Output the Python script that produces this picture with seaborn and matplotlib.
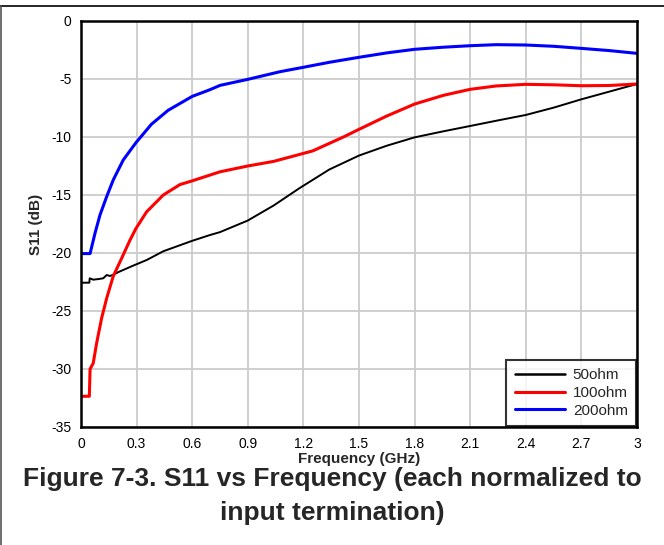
import numpy as np
import pandas as pd
import matplotlib
matplotlib.use("Agg")
import matplotlib.pyplot as plt
import seaborn as sns
from matplotlib.lines import Line2D

# ---- data ----
freq_50 = [0.0, 0.045, 0.047, 0.066, 0.093, 0.12, 0.1385, 0.156, 0.174, 0.201, 0.28, 0.355,
           0.444, 0.6, 0.696, 0.75, 0.9, 1.04, 1.18, 1.34, 1.5, 1.65, 1.8, 1.955, 2.1, 2.24,
           2.4, 2.55, 2.7, 2.85, 3.0]
s11_50 = [-22.56, -22.56, -22.18, -22.3, -22.25, -22.18, -21.9, -21.98, -21.88, -21.65, -21.1, -20.6,
          -19.85, -18.95, -18.45, -18.2, -17.2, -15.9, -14.4, -12.8, -11.6, -10.75, -10.03, -9.51, -9.05, -8.6,
          -8.1, -7.47, -6.75, -6.09, -5.43]

freq_100 = [0.0, 0.045, 0.049, 0.066, 0.084, 0.1115, 0.1385, 0.174, 0.2195, 0.264, 0.296, 0.354,
            0.444, 0.534, 0.6, 0.696, 0.75, 0.9, 1.04, 1.18, 1.25, 1.34, 1.42, 1.5, 1.65, 1.8,
            1.955, 2.1, 2.24, 2.4, 2.55, 2.7, 2.85, 3.0]
s11_100 = [-32.35, -32.35, -30.0, -29.5, -27.8, -25.6, -23.9, -22.0, -20.45, -18.9, -17.9, -16.45,
           -15.0, -14.1, -13.78, -13.28, -13.0, -12.5, -12.1, -11.5, -11.2, -10.55, -9.97, -9.34, -8.19, -7.16,
           -6.41, -5.89, -5.6, -5.46, -5.5, -5.58, -5.56, -5.43]

freq_200 = [0.0, 0.049, 0.0755, 0.1025, 0.1385, 0.174, 0.228, 0.296, 0.38, 0.47, 0.6, 0.696,
            0.75, 0.9, 1.074, 1.2, 1.34, 1.5, 1.65, 1.8, 1.955, 2.1, 2.24, 2.4, 2.55, 2.7, 2.85, 3.0]
s11_200 = [-20.05, -20.05, -18.3, -16.72, -15.14, -13.7, -11.98, -10.5, -8.9, -7.7, -6.5, -5.92,
           -5.55, -5.03, -4.37, -3.99, -3.56, -3.13, -2.75, -2.44, -2.26, -2.13, -2.04, -2.07, -2.18, -2.36, -2.55, -2.79]

series_names = ["50ohm", "100ohm", "200ohm"]
series_colors = ["#000000", "#ff0000", "#0000ff"]
x_ticks = [0, 0.3, 0.6, 0.9, 1.2, 1.5, 1.8, 2.1, 2.4, 2.7, 3]
x_tick_labels = ["0", "0.3", "0.6", "0.9", "1.2", "1.5", "1.8", "2.1", "2.4", "2.7", "3"]
y_ticks = [0, -5, -10, -15, -20, -25, -30, -35]
y_tick_labels = ["0", "-5", "-10", "-15", "-20", "-25", "-30", "-35"]

df = pd.concat([
    pd.DataFrame({"Frequency": freq_50, "S11": s11_50, "Termination": series_names[0]}),
    pd.DataFrame({"Frequency": freq_100, "S11": s11_100, "Termination": series_names[1]}),
    pd.DataFrame({"Frequency": freq_200, "S11": s11_200, "Termination": series_names[2]}),
], ignore_index=True)

sns.set_theme(style="white")
plt.rcParams["font.family"] = ["Liberation Sans", "DejaVu Sans"]

fig = plt.figure(figsize=(6.64, 5.45), dpi=100)
W, H = 664, 545
ax = fig.add_axes([81 / W, 1 - 427 / H, 556 / W, 406 / H])

sns.lineplot(data=df, x="Frequency", y="S11", hue="Termination",
             hue_order=series_names, palette=dict(zip(series_names, series_colors)),
             ax=ax, estimator=None, sort=False, legend=False)
for line, lw in zip(ax.get_lines(), [1.4, 2.2, 2.2]):
    line.set_linewidth(lw)
    line.set_solid_joinstyle("round")
    line.set_solid_capstyle("butt")

ax.set_xlim(0, 3)
ax.set_ylim(-35, 0)
ax.set_xticks(x_ticks)
ax.set_xticklabels(x_tick_labels)
ax.set_yticks(y_ticks)
ax.set_yticklabels(y_tick_labels)
ax.tick_params(axis="both", length=0, labelsize=10, colors="black")
ax.tick_params(axis="x", pad=7)
ax.tick_params(axis="y", pad=7)
ax.grid(True, color="#cccccc", linewidth=1.3)
ax.set_axisbelow(True)
for sp in ax.spines.values():
    sp.set_visible(True)
    sp.set_color("black")
    sp.set_linewidth(1.8)
    sp.set_zorder(5)

ax.set_xlabel("Frequency (GHz)", fontsize=11, fontweight="bold", labelpad=1)
ax.set_ylabel("S11 (dB)", fontsize=11, fontweight="bold", labelpad=6)

handles = [Line2D([0], [0], color=c, lw=2.2 if i else 1.8) for i, c in enumerate(series_colors)]
leg = ax.legend(handles, series_names, loc="lower right", borderaxespad=0.05,
                fontsize=11, frameon=True, fancybox=False, handlelength=3.3,
                handletextpad=0.5, labelspacing=0.25, borderpad=0.55)
leg.get_frame().set_edgecolor("black")
leg.get_frame().set_linewidth(1.5)
leg.set_zorder(6)

fig.text(332 / W, 1 - 496 / H,
         "Figure 7-3. S11 vs Frequency (each normalized to\ninput termination)",
         ha="center", va="center", fontsize=19, fontweight="bold", linespacing=1.5)

# outer frame
fig.add_artist(Line2D([0, 1], [1 - 5.5 / H, 1 - 5.5 / H], transform=fig.transFigure,
                      color="black", lw=1.2))
fig.add_artist(Line2D([0.8 / W, 0.8 / W], [0, 1 - 5.5 / H], transform=fig.transFigure,
                      color="#555555", lw=1.2))

fig.savefig("out.png", dpi=100)
